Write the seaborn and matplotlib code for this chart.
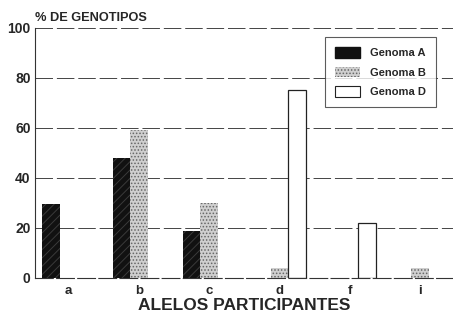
import matplotlib
matplotlib.use("Agg")
import matplotlib.pyplot as plt
import pandas as pd
import seaborn as sns

# values (% of genotypes)
alelos = ["a", "b", "c", "d", "f", "i"]
genoma_a = [29.5, 48, 18.5, 0, 0, 0]
genoma_b = [0, 59, 30, 4, 0, 4]
genoma_d = [0, 0, 0, 75, 22, 0]
genomas = ["Genoma A", "Genoma B", "Genoma D"]

df = pd.DataFrame({
    "alelo": alelos * 3,
    "genoma": [g for g in genomas for _ in alelos],
    "pct": genoma_a + genoma_b + genoma_d,
})

sns.set_style("white")
plt.rcParams["font.family"] = ["Liberation Sans", "DejaVu Sans"]
plt.rcParams["hatch.linewidth"] = 0.7

fig = plt.figure(figsize=(4.53, 3.14), dpi=100)
ax = fig.add_axes([0.077, 0.116, 0.923, 0.795])

sns.barplot(data=df, x="alelo", y="pct", hue="genoma", order=alelos,
            hue_order=genomas, width=0.75, ax=ax, legend=False,
            palette=["#111111", "#d0d0d0", "white"], saturation=1)

styles = [("#111111", "////", "#3a3a3a"),
          ("#cfcfcf", ".....", "#666666"),
          ("white", None, "#222222")]
for cont, (fc, hatch, ec) in zip(ax.containers, styles):
    for bar in cont:
        bar.set_facecolor(fc)
        bar.set_edgecolor(ec)
        if hatch:
            bar.set_hatch(hatch)
            bar.set_linewidth(0)
        else:
            bar.set_linewidth(0.9)
        if bar.get_height() == 0:
            bar.set_visible(False)

ax.set_xlim(-0.48, 5.47)
ax.set_ylim(0, 100)
ax.set_yticks([0, 20, 40, 60, 80, 100])
ax.yaxis.grid(True, linestyle=(0, (18, 4)), color="#444444", linewidth=0.7)
ax.set_axisbelow(True)
for s in ["top", "right"]:
    ax.spines[s].set_visible(False)
ax.spines["left"].set_color("#333333")
ax.spines["left"].set_linewidth(0.8)
ax.spines["bottom"].set_color("#333333")
ax.spines["bottom"].set_linestyle((0, (16, 3)))
ax.spines["bottom"].set_linewidth(0.8)
ax.tick_params(axis="x", length=0, pad=5, labelsize=9.5)
ax.tick_params(axis="y", length=0, pad=3, labelsize=10)
for lbl in ax.get_xticklabels() + ax.get_yticklabels():
    lbl.set_fontweight("bold")

ax.set_ylabel("")
ax.set_xlabel("ALELOS PARTICIPANTES", fontsize=12.5, fontweight="bold")
ax.xaxis.label.set_va("center")
ax.xaxis.set_label_coords(0.5, -0.112)
fig.text(0.077, 0.942, "% DE GENOTIPOS", fontsize=9.2, fontweight="bold",
         ha="left", va="center")

handles = [plt.Rectangle((0, 0), 1, 1, facecolor="#111111", edgecolor="#111111"),
           plt.Rectangle((0, 0), 1, 1, facecolor="#cfcfcf", hatch=".....",
                         edgecolor="#666666", linewidth=0),
           plt.Rectangle((0, 0), 1, 1, facecolor="white", edgecolor="#222222",
                         linewidth=0.8)]
leg = ax.legend(handles, genomas, loc="upper right", bbox_to_anchor=(0.972, 0.985),
                frameon=True, fancybox=False, prop={"size": 8, "weight": "bold"},
                handlelength=2.2, handleheight=1.1, labelspacing=0.75,
                borderpad=0.9, handletextpad=0.9)
leg.get_frame().set_edgecolor("#333333")
leg.get_frame().set_linewidth(0.8)

fig.savefig("out.png", dpi=100)
